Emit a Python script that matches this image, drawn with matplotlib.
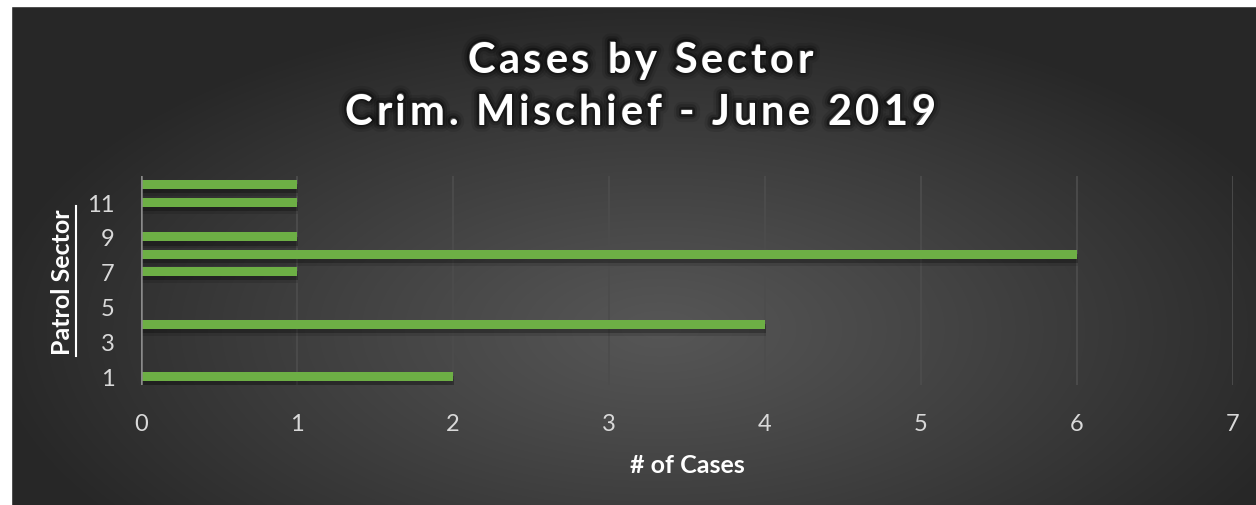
import numpy as np
import matplotlib
matplotlib.use("Agg")
import matplotlib.pyplot as plt
import matplotlib.patheffects as pe
from matplotlib.lines import Line2D
from matplotlib.patches import Rectangle

sectors = [1, 2, 3, 4, 5, 6, 7, 8, 9, 10, 11, 12]
cases = [2, 0, 0, 4, 0, 0, 1, 6, 1, 0, 1, 1]
ytick_labels = [1, 3, 5, 7, 9, 11]
title_lines = ["Cases by Sector", "Crim. Mischief - June 2019"]

W, H = 1256, 506
FONT = "Lato"
fig = plt.figure(figsize=(W / 100, H / 100), dpi=100)
fig.patch.set_facecolor("#272727")

# radial dark gradient background (thin white strip at left/top)
left_px, top_px = 11, 7
bg = fig.add_axes([left_px / W, 0, 1 - left_px / W, 1 - top_px / H], zorder=-10)
xx, yy = np.meshgrid(np.arange(left_px, W), np.arange(top_px, H))
d = np.sqrt(((xx - 660) / 680.0) ** 2 + ((yy - 330) / 330.0) ** 2)
d = np.clip(d, 0, 1)
g = 0x56 - (0x56 - 0x27) * d ** 1.1
img = np.dstack([g, g, g]) / 255.0
bg.imshow(img, aspect="auto", interpolation="bilinear", extent=[0, 1, 0, 1])
bg.set_xlim(0, 1)
bg.set_ylim(0, 1)
bg.axis("off")
fig.add_artist(Rectangle((0, 0), left_px / W, 1, transform=fig.transFigure,
                         color="white", zorder=-5))
fig.add_artist(Rectangle((0, 1 - top_px / H), 1, top_px / H, transform=fig.transFigure,
                         color="white", zorder=-5))

ax = fig.add_axes([141 / W, 1 - 386 / H, (1233 - 141) / W, (386 - 177) / H])
ax.patch.set_alpha(0)

bars = ax.barh(sectors, cases, height=0.52, color="#6DAF45", zorder=3)
for b in bars:
    b.set_path_effects([
        pe.SimplePatchShadow(offset=(1, -5), shadow_rgbFace="black", alpha=0.12),
        pe.SimplePatchShadow(offset=(1, -3), shadow_rgbFace="black", alpha=0.25),
        pe.Normal()])

ax.set_xlim(0, 7)
ax.set_ylim(0.5, 12.5)
ax.set_xticks(range(0, 8))
ax.set_yticks(ytick_labels)
ax.grid(axis="x", color="#4c4c4c", linewidth=1.3, zorder=0)
ax.axvline(0, color="#8a8a8a", linewidth=1.8, zorder=4)
for s in ax.spines.values():
    s.set_visible(False)
ax.tick_params(length=0, colors="#d9d9d9", labelsize=17)
ax.tick_params(axis="y", pad=19)
ax.tick_params(axis="x", pad=20)
for lab in ax.get_xticklabels() + ax.get_yticklabels():
    lab.set_family(FONT)

ax.set_xlabel("# of Cases", color="white", fontsize=18, fontweight="bold",
              family=FONT, labelpad=14)

# rotated y label with underline
fig.text(62 / W, 1 - 282 / H, "Patrol Sector", rotation=90, color="white",
         fontsize=18, fontweight="bold", family=FONT, ha="center", va="center")
fig.add_artist(Line2D([76 / W, 76 / W], [1 - 207 / H, 1 - 357 / H],
                      color="white", linewidth=1.5, transform=fig.transFigure))


def tracked_text(s, cx, base_y, size, track):
    r = fig.canvas.get_renderer()

    def width(t):
        tt = fig.text(0, 0, t, fontsize=size, fontweight="bold", family=FONT)
        e = tt.get_window_extent(r).width
        tt.remove()
        return e

    adv = [width("i i") - width("ii") if ch == " " else width(ch) for ch in s]
    total = sum(adv) + track * (len(s) - 1)
    x = cx - total / 2
    for ch, a in zip(s, adv):
        if ch != " ":
            kw = dict(fontsize=size, fontweight="bold", family=FONT, color="white",
                      ha="left", va="baseline")
            fig.text(x / W, 1 - base_y / H, ch, zorder=5,
                     path_effects=[pe.Stroke(linewidth=11, foreground="black", alpha=0.10),
                                   pe.Stroke(linewidth=7, foreground="black", alpha=0.18),
                                   pe.Stroke(linewidth=3.5, foreground="black", alpha=0.35)],
                     **kw)
            fig.text(x / W, 1 - base_y / H, ch, zorder=6, **kw)
        x += a + track


tracked_text(title_lines[0], 640, 73, 30, 3.7)
tracked_text(title_lines[1], 640, 125, 30, 3.7)

fig.savefig("out.png", dpi=100, facecolor=fig.get_facecolor())
